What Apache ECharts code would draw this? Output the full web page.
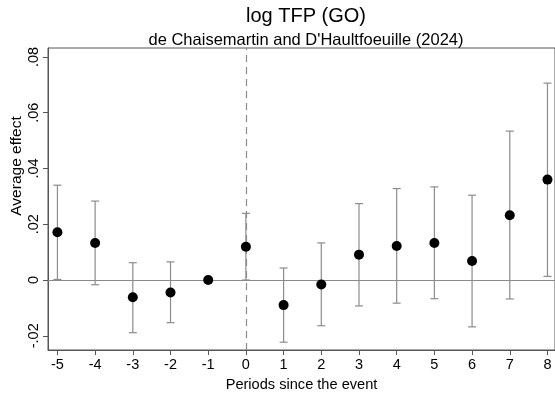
<!DOCTYPE html>
<html>
<head>
<meta charset="utf-8">
<script src="https://cdn.jsdelivr.net/npm/echarts@6/dist/echarts.min.js"></script>
<style>
  html, body { margin: 0; padding: 0; background: #fff; }
  #chart { width: 555px; height: 399px; }
</style>
</head>
<body>
<div id="chart"></div>
<script>
// Event-study estimates: periods relative to the event
const periods = [-5, -4, -3, -2, -1, 0, 1, 2, 3, 4, 5, 6, 7, 8];
const estimates = [0.0171, 0.0133, -0.0062, -0.0045, 0.0, 0.0119, -0.0090, -0.0016, 0.0091, 0.0122, 0.0133, 0.0068, 0.0232, 0.0360];
const ciLower = [0.0002, -0.0017, -0.0189, -0.0153, 0.0, 0.0000, -0.0223, -0.0164, -0.0093, -0.0083, -0.0067, -0.0168, -0.0068, 0.0013];
const ciUpper = [0.0340, 0.0283, 0.0062, 0.0065, 0.0, 0.0239, 0.0043, 0.0133, 0.0274, 0.0328, 0.0334, 0.0304, 0.0534, 0.0706];
const yTicks = [-0.02, 0, 0.02, 0.04, 0.06, 0.08];
const yTickLabels = ['-.02', '0', '.02', '.04', '.06', '.08'];

const font = 'Liberation Sans, Arial, sans-serif';
const chart = echarts.init(document.getElementById('chart'));

const pointData = periods.map((p, i) => [p, estimates[i]]);
const barData = periods.map((p, i) => [p, ciLower[i], ciUpper[i]]);

chart.setOption({
  animation: false,
  title: [
    { text: 'log TFP (GO)', left: 301, top: 1, textAlign: 'center',
      textStyle: { fontFamily: font, fontSize: 20, fontWeight: 'normal', color: '#000' } },
    { text: "de Chaisemartin and D'Haultfoeuille (2024)", left: 301, top: 27, textAlign: 'center',
      textStyle: { fontFamily: font, fontSize: 16.5, fontWeight: 'normal', color: '#000' } }
  ],
  graphic: [
    { type: 'text', position: [17, 166], rotation: Math.PI / 2,
      style: { text: 'Average effect', font: '15.5px ' + font, fill: '#000',
               textAlign: 'center', textVerticalAlign: 'middle' } }
  ],
  grid: { left: 48, right: 0, top: 48, bottom: 49, show: true, borderColor: '#555', borderWidth: 1 },
  xAxis: {
    type: 'value', min: -5.25, max: 8.2, interval: 1,
    name: 'Periods since the event', nameLocation: 'middle', nameGap: 27,
    nameTextStyle: { fontFamily: font, fontSize: 14.6, color: '#000' },
    axisLine: { show: true, onZero: false, lineStyle: { color: '#555' } },
    axisTick: { show: true, inside: false, length: 5, lineStyle: { color: '#555' }, customValues: periods },
    axisLabel: { fontFamily: font, fontSize: 14.5, color: '#000', margin: 7, customValues: periods },
    splitLine: { show: false }
  },
  yAxis: {
    type: 'value', min: -0.0251, max: 0.0832,
    axisLine: { show: true, onZero: false, lineStyle: { color: '#555' } },
    axisTick: { show: true, inside: false, length: 5, lineStyle: { color: '#555' }, customValues: yTicks },
    axisLabel: { fontFamily: font, fontSize: 14.5, color: '#000', margin: 7, rotate: 90,
      customValues: yTicks,
      formatter: v => {
        const i = yTicks.findIndex(t => Math.abs(t - v) < 1e-9);
        return i >= 0 ? yTickLabels[i] : '';
      } },
    splitLine: { show: false }
  },
  series: [
    {
      type: 'line', data: [], silent: true,
      markLine: {
        symbol: 'none', silent: true, label: { show: false },
        data: [
          { yAxis: 0, lineStyle: { color: '#8a8a8a', width: 1.2, type: 'solid' } },
          { xAxis: 0, lineStyle: { color: '#8a8a8a', width: 1.2, type: [7, 5] } }
        ]
      }
    },
    {
      type: 'custom', silent: true, data: barData,
      renderItem: (params, api) => {
        const x = api.value(0);
        const lo = api.coord([x, api.value(1)]);
        const hi = api.coord([x, api.value(2)]);
        const cap = 4;
        const st = { stroke: '#8c8c8c', lineWidth: 1.2 };
        return { type: 'group', children: [
          { type: 'line', shape: { x1: lo[0], y1: lo[1], x2: hi[0], y2: hi[1] }, style: st },
          { type: 'line', shape: { x1: lo[0] - cap, y1: lo[1], x2: lo[0] + cap, y2: lo[1] }, style: st },
          { type: 'line', shape: { x1: hi[0] - cap, y1: hi[1], x2: hi[0] + cap, y2: hi[1] }, style: st }
        ] };
      },
      z: 3
    },
    {
      type: 'scatter', data: pointData, symbol: 'circle', symbolSize: 10,
      itemStyle: { color: '#000', opacity: 1 }, z: 5
    }
  ]
});
</script>
</body>
</html>
